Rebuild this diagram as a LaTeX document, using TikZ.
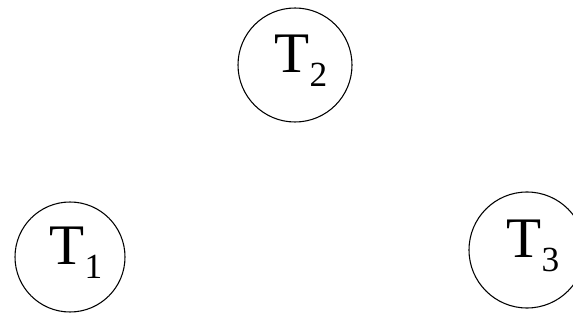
\documentclass[tikz,border=0pt]{standalone}
\usepackage{fontspec}
\setmainfont{Liberation Serif}
\usetikzlibrary{calc}
\newcommand{\tsub}[1]{T\lower 10.5pt\hbox{\fontsize{26.5pt}{30pt}\selectfont #1}}
\begin{document}
\begin{tikzpicture}[x=0.75pt,y=-0.75pt,
  tcirc/.style={draw=black,line width=0.8pt,circle,minimum size=#1*0.75pt,inner sep=0pt},
  tlab/.style={inner sep=0pt,font=\fontsize{43pt}{48pt}\selectfont}]
\useasboundingbox (0,0) rectangle (573,320);
\node[tcirc=110] (c1) at (70,257) {};
\node[tcirc=114] (c2) at (295,65) {};
\node[tcirc=116] (c3) at (527,250) {};
\node[tlab] (t1) at ($(c1)+(6,-4)$) {\tsub{1}};
\node[tlab] (t2) at ($(c2)+(6,-4)$) {\tsub{2}};
\node[tlab] (t3) at ($(c3)+(6,-4)$) {\tsub{3}};
\end{tikzpicture}
\end{document}
